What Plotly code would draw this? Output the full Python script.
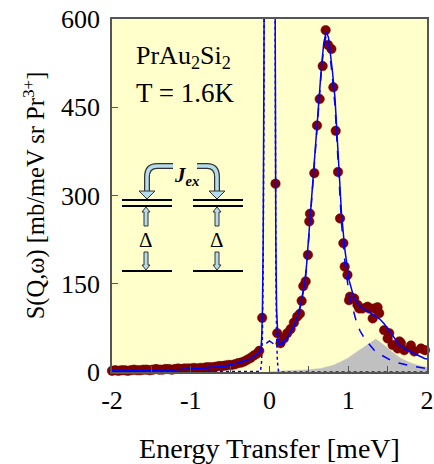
import plotly.graph_objects as go

# ---------------- data ----------------
E_data = [-2.00, -1.96, -1.92, -1.88, -1.84, -1.80, -1.76, -1.72, -1.68, -1.64,
          -1.60, -1.56, -1.52, -1.48, -1.44, -1.40, -1.36, -1.32, -1.28, -1.24,
          -1.20, -1.16, -1.12, -1.08, -1.04, -1.00, -0.96, -0.92, -0.88, -0.84,
          -0.80, -0.76, -0.72, -0.68, -0.64, -0.60, -0.56, -0.52, -0.48, -0.44,
          -0.40, -0.36, -0.32, -0.28, -0.24, -0.20, -0.16, -0.13, -0.093,
          0.076, 0.098, 0.14, 0.183, 0.225, 0.268, 0.31, 0.352, 0.386, 0.408,
          0.429, 0.459, 0.488, 0.505, 0.514, 0.569, 0.603, 0.637, 0.675, 0.713,
          0.743, 0.786, 0.811, 0.841, 0.870, 0.896, 0.938, 0.955, 0.990, 1.010,
          1.023, 1.075, 1.117, 1.14, 1.18, 1.245, 1.265, 1.31, 1.33, 1.372,
          1.393, 1.456, 1.50, 1.52, 1.563, 1.627, 1.65, 1.669, 1.711, 1.796,
          1.838, 1.924, 1.975]
S_data = [2, 3, 2, 3, 3, 2, 3, 4, 3, 3,
          4, 4, 3, 4, 5, 4, 4, 5, 5, 4,
          5, 6, 5, 6, 6, 6, 7, 6, 7, 7,
          8, 8, 8, 9, 10, 10, 11, 12, 12, 13,
          15, 16, 18, 21, 24, 28, 31, 36, 92,
          320, 66, 49, 57, 66, 73, 84, 94, 99, 121,
          146, 154, 199, 256, 269, 338, 419, 464, 520, 581,
          556, 549, 484, 410, 340, 261, 219, 179, 165, 122,
          128, 125, 114, 108, 108, 111, 108, 91, 108, 110,
          100, 71, 57, 66, 46, 40, 52, 49, 37, 45,
          35, 40, 37]

# total fit (solid)
E_fit = [-2.0, -1.75, -1.5, -1.25, -1.0, -0.8, -0.6, -0.5, -0.4, -0.3, -0.25,
         -0.2, -0.15, -0.12, -0.11, -0.10, -0.09, -0.08, -0.07, -0.06, -0.05,
         0.0, 0.05, 0.06, 0.07, 0.08, 0.09, 0.10, 0.11, 0.12, 0.14, 0.2, 0.225,
         0.3, 0.352, 0.4, 0.416, 0.45, 0.471, 0.5, 0.514, 0.544, 0.56, 0.595,
         0.628, 0.66, 0.69, 0.72, 0.75, 0.78, 0.8, 0.832, 0.85, 0.883, 0.913,
         0.955, 1.01, 1.075, 1.16, 1.25, 1.33, 1.4, 1.456, 1.52, 1.58, 1.65,
         1.75, 1.85, 1.97, 2.0]
S_fit = [1.5, 2, 2.5, 3.5, 5, 7, 9.5, 12, 15, 19, 22,
         26, 31, 35, 39, 55, 102, 228, 545, 1217, 2455,
         12420, 2455, 1218, 546, 232, 106, 63, 50, 47, 46, 54, 58,
         76, 92, 118, 128, 155, 182, 235, 265, 320, 345, 415,
         465, 520, 560, 579, 568, 535, 510, 465, 425, 340, 272,
         210, 156, 125, 110, 103, 96, 90, 82, 70, 58, 46,
         37, 30, 23, 22]

# inelastic (dashed)
E_inel = [-2.0, -1.75, -1.5, -1.25, -1.0, -0.8, -0.6, -0.5, -0.4, -0.3, -0.25,
          -0.2, -0.15, -0.12, -0.09, -0.06, -0.03, 0.0, 0.03, 0.06, 0.09, 0.12,
          0.14, 0.2, 0.225, 0.3, 0.352, 0.4, 0.416, 0.45, 0.471, 0.5, 0.514,
          0.544, 0.56, 0.595, 0.628, 0.66, 0.69, 0.72, 0.75, 0.78, 0.8, 0.832,
          0.85, 0.883, 0.913, 0.955, 1.01, 1.05, 1.1, 1.15, 1.22, 1.28, 1.33,
          1.39, 1.45, 1.54, 1.62, 1.7, 1.78, 1.85, 1.92, 2.0]
S_inel = [1.5, 2, 2.5, 3.5, 5, 7, 9.5, 12, 15, 19, 22,
          26, 31, 35, 40, 46, 50, 53, 50, 46, 44, 45,
          45, 53, 57, 74, 90, 115, 125, 152, 178, 231, 261,
          316, 341, 411, 460, 514, 554, 572, 560, 526, 499, 452,
          411, 325, 255, 190, 132, 112, 87, 70, 54, 45, 37,
          31, 26, 20, 16, 13, 11, 9, 7.5, 6]

# elastic (dotted)
E_el = [-2.0, -0.13, -0.115, -0.10, -0.09, -0.08, -0.07, -0.06, -0.05, 0.0,
        0.05, 0.06, 0.07, 0.08, 0.09, 0.10, 0.115, 0.13, 2.0]
S_el = [0, 0, 1, 18, 62, 187, 501, 1173, 2409, 12370,
        2409, 1173, 501, 187, 62, 18, 1, 0, 0]

# second inelastic component (grey area)
E_grey = [0.0, 0.25, 0.5, 0.65, 0.8, 0.9, 1.0, 1.117, 1.245, 1.35, 1.48, 1.55,
          1.67, 1.8, 1.92, 2.0]
S_grey = [0.5, 2, 4, 6, 11, 17, 24, 35, 46, 56, 43, 35,
          23, 15, 10, 8]

x_ticks = [-2, -1, 0, 1, 2]
x_ticklabels = ["-2", "-1", "0", "1", "2"]
y_ticks = [0, 150, 300, 450, 600]

# ---------------- figure ----------------
W, H = 434, 464
PL, PT, PR, PB = 112, 19, 427, 372     # plot area in page pixels
ML, MT, MR, MB = PL, PT, W - PR, H - PB
PW, PH = PR - PL, PB - PT

def px(x):
    return (x - PL) / PW

def py(y):
    return (PB - y) / PH

FONT = "Liberation Serif"
BLUE = "#0000ff"

fig = go.Figure()
fig.add_trace(go.Scatter(x=E_grey, y=S_grey, mode="lines", fill="tozeroy",
                         fillcolor="#c0c0c0", line=dict(color="#c0c0c0", width=0.5),
                         hoverinfo="skip", showlegend=False))
fig.add_trace(go.Scatter(x=E_data, y=S_data, mode="markers", cliponaxis=False,
                         marker=dict(size=9.5, color="#800000",
                                     line=dict(color="#6a0000", width=0.5)),
                         showlegend=False))
fig.add_trace(go.Scatter(x=E_el, y=S_el, mode="lines",
                         line=dict(color=BLUE, width=1.5, dash="dot"),
                         showlegend=False))
fig.add_trace(go.Scatter(x=E_inel, y=S_inel, mode="lines",
                         line=dict(color=BLUE, width=1.5, dash="dash"),
                         showlegend=False))
fig.add_trace(go.Scatter(x=E_fit, y=S_fit, mode="lines",
                         line=dict(color=BLUE, width=1.5),
                         showlegend=False))

shapes = []
# energy levels
for x0, x1 in [(122, 172), (193, 243)]:
    for yy in [200, 206, 271]:
        shapes.append(dict(type="line", xref="paper", yref="paper",
                           x0=px(x0), x1=px(x1), y0=py(yy), y1=py(yy),
                           line=dict(color="black", width=2)))

ARROW_FILL = "#b4dcec"
ARROW_EDGE = "#333333"

def path(points):
    s = "M {:.4f} {:.4f}".format(px(points[0][0]), py(points[0][1]))
    for p in points[1:]:
        s += " L {:.4f} {:.4f}".format(px(p[0]), py(p[1]))
    return s + " Z"

for cx in [146, 217]:
    # up arrow
    shapes.append(dict(type="path", xref="paper", yref="paper",
                       path=path([(cx - 2, 226), (cx - 2, 212), (cx - 4, 212), (cx, 207),
                                  (cx + 4, 212), (cx + 2, 212), (cx + 2, 226)]),
                       fillcolor=ARROW_FILL, line=dict(color=ARROW_EDGE, width=1)))
    # down arrow
    shapes.append(dict(type="path", xref="paper", yref="paper",
                       path=path([(cx - 2, 252), (cx - 2, 265), (cx - 4, 265), (cx, 270),
                                  (cx + 4, 265), (cx + 2, 265), (cx + 2, 252)]),
                       fillcolor=ARROW_FILL, line=dict(color=ARROW_EDGE, width=1)))

# curved exchange arrows
for sx, bx, hx in [(173, 157, 147), (197, 207, 217)]:
    p = "M {:.4f} {:.4f} L {:.4f} {:.4f} Q {:.4f} {:.4f} {:.4f} {:.4f} L {:.4f} {:.4f}".format(
        px(sx), py(166), px(bx), py(166), px(hx), py(166), px(hx), py(177), px(hx), py(191))
    shapes.append(dict(type="path", xref="paper", yref="paper", path=p,
                       line=dict(color=ARROW_EDGE, width=6)))
    shapes.append(dict(type="path", xref="paper", yref="paper", path=p,
                       line=dict(color=ARROW_FILL, width=3.5)))
    shapes.append(dict(type="path", xref="paper", yref="paper",
                       path=path([(hx - 8, 191), (hx + 8, 191), (hx, 199)]),
                       fillcolor=ARROW_FILL, line=dict(color=ARROW_EDGE, width=1)))

annotations = [
    dict(text="PrAu<sub>2</sub>Si<sub>2</sub>", x=px(134), y=py(57), xref="paper", yref="paper",
         xanchor="left", yanchor="middle", showarrow=False, font=dict(family=FONT, size=26)),
    dict(text="T = 1.6K", x=px(134), y=py(93), xref="paper", yref="paper",
         xanchor="left", yanchor="middle", showarrow=False, font=dict(family=FONT, size=27)),
    dict(text="<b><i>J</i></b><sub><b><i>ex</i></b></sub>", x=px(186), y=py(176),
         xref="paper", yref="paper", xanchor="center", yanchor="middle", showarrow=False,
         font=dict(family=FONT, size=21)),
]
for cx in [146, 217]:
    annotations.append(dict(text="Δ", x=px(cx), y=py(240), xref="paper", yref="paper",
                            xanchor="center", yanchor="middle", showarrow=False,
                            font=dict(family=FONT, size=21)))

fig.update_layout(
    width=W, height=H,
    margin=dict(l=ML, r=MR, t=MT, b=MB, autoexpand=False),
    paper_bgcolor="white", plot_bgcolor="#ffffcc",
    font=dict(family=FONT, size=26, color="black"),
    shapes=shapes, annotations=annotations,
    showlegend=False,
    xaxis=dict(range=[-2, 2], tickvals=x_ticks, ticktext=x_ticklabels,
               ticks="inside", ticklen=6, tickcolor="#555", tickwidth=1,
               minor=dict(dtick=0.5, ticks="inside", ticklen=6, tickcolor="#555"),
               showgrid=False, zeroline=False, showline=True, mirror=True,
               linecolor="#555", linewidth=1.5, ticklabelstandoff=4,
               ticklabeloverflow="allow",
               tickfont=dict(family=FONT, size=26),
               title=dict(text="Energy Transfer [meV]", standoff=45,
                          font=dict(family=FONT, size=28))),
    yaxis=dict(range=[0, 600], tickvals=y_ticks,
               ticks="inside", ticklen=6, tickcolor="#555", tickwidth=1,
               showgrid=False, zeroline=False, showline=True, mirror=True,
               linecolor="#555", linewidth=1.5, ticklabelstandoff=5,
               ticklabeloverflow="allow",
               tickfont=dict(family=FONT, size=26),
               title=dict(text="S(Q,ω) [mb/meV sr Pr<sup>3+</sup>]", standoff=9,
                          font=dict(family=FONT, size=24.5))),
)

# remove the browser's default 8px body margin so the figure fills the window
fig.write_html("out.html", config={"displayModeBar": False},
               post_script="document.body.style.margin='0px';")
